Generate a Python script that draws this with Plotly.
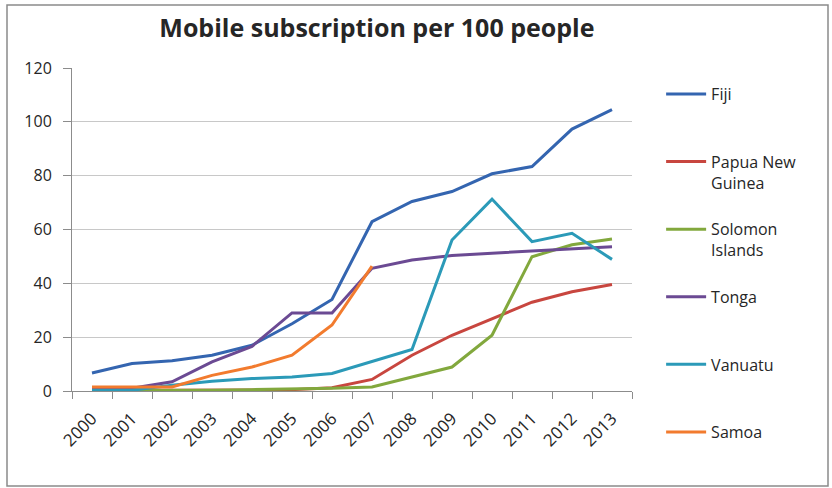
import plotly.graph_objects as go

years = ["2000", "2001", "2002", "2003", "2004", "2005", "2006",
         "2007", "2008", "2009", "2010", "2011", "2012", "2013"]

fiji = [6.7, 10.2, 11.2, 13.3, 17.0, 25.0, 34.0, 62.9, 70.4, 74.1, 80.7, 83.4, 97.3, 104.5]
papua_new_guinea = [0.2, 0.2, 0.3, 0.3, 0.4, 0.5, 1.2, 4.3, 13.3, 20.7, 27.0, 33.0, 36.9, 39.6]
solomon_islands = [0.2, 0.2, 0.3, 0.3, 0.5, 0.7, 1.0, 1.5, 5.2, 8.9, 20.7, 49.9, 54.3, 56.5]
tonga = [1.0, 1.0, 3.4, 10.8, 16.6, 29.0, 29.0, 45.6, 48.7, 50.3, 51.2, 52.0, 52.8, 53.6]
vanuatu = [0.3, 0.3, 2.1, 3.6, 4.6, 5.2, 6.5, 11.0, 15.4, 56.1, 71.3, 55.5, 58.6, 48.9]
samoa = [1.5, 1.5, 1.5, 5.8, 8.9, 13.3, 24.5, 46.4, None, None, None, None, None, None]

series = [
    ("Fiji<br> ", fiji, "#3465b0"),
    ("Papua New<br>Guinea", papua_new_guinea, "#c8463f"),
    ("Solomon<br>Islands", solomon_islands, "#82a83d"),
    ("Tonga<br> ", tonga, "#6b4a93"),
    ("Vanuatu<br> ", vanuatu, "#2b9ab8"),
    ("Samoa<br> ", samoa, "#f27b2e"),
]

fig = go.Figure()
for i, (name, vals, color) in enumerate(series):
    fig.add_trace(go.Scatter(
        x=years, y=vals, name=name, mode="lines",
        line=dict(color=color, width=3),
        legendgroup=f"g{i}",
        connectgaps=False,
    ))

font_family = "Open Sans, Noto Sans, sans-serif"

fig.update_layout(
    width=832, height=488,
    margin=dict(l=72, r=200, t=68, b=97),
    paper_bgcolor="white", plot_bgcolor="white",
    font=dict(family=font_family, color="#262626", size=15),
    title=dict(text="<b>Mobile subscription per 100 people</b>",
               x=0.453, xanchor="center", y=0.943, yanchor="middle",
               yref="container",
               font=dict(size=25, color="#262626", family=font_family)),
    showlegend=True,
    legend=dict(x=1.052, xanchor="left", y=0.972, yanchor="top",
                traceorder="grouped", tracegroupgap=23,
                valign="top", itemwidth=40, maxheight=470,
                font=dict(size=16, color="#262626", family=font_family),
                bgcolor="rgba(0,0,0,0)"),
    xaxis=dict(type="category", range=[-0.5, 13.5],
               tickangle=-45, tickson="boundaries",
               ticks="outside", ticklen=7, tickcolor="#8c8c8c",
               showline=True, linecolor="#8c8c8c", linewidth=1,
               showgrid=False, tickfont=dict(size=17),
               ticklabelstandoff=10),
    yaxis=dict(range=[0, 120], dtick=20, tick0=0,
               ticks="outside", ticklen=8, tickcolor="#8c8c8c",
               showline=True, linecolor="#8c8c8c", linewidth=1,
               showgrid=True, gridcolor="#c8c8c8", gridwidth=1,
               zeroline=False, tickfont=dict(size=16), ticklabelstandoff=8),
    shapes=[dict(type="rect", xref="paper", yref="paper",
                 x0=(7 - 72) / 560, x1=(828 - 72) / 560,
                 y0=(391 - 486) / 323, y1=(391 - 5) / 323,
                 line=dict(color="#8a8a8a", width=1.5),
                 fillcolor="rgba(0,0,0,0)", layer="below")],
)

fig.write_html("out.html",
               config={"displayModeBar": False},
               post_script="document.body.style.margin='0';document.body.style.padding='0';")
